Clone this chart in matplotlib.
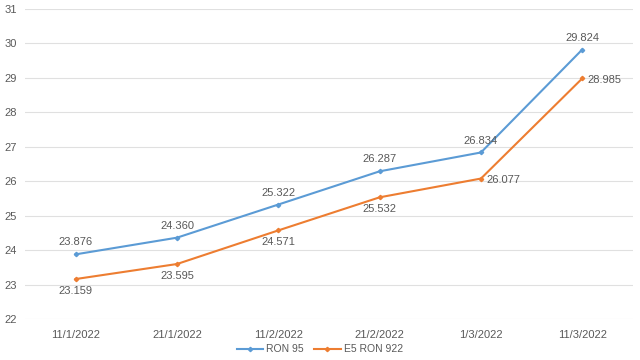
import matplotlib
matplotlib.use("Agg")
import matplotlib.pyplot as plt

categories = ["11/1/2022", "21/1/2022", "11/2/2022", "21/2/2022", "1/3/2022", "11/3/2022"]
ron95 = [23.876, 24.360, 25.322, 26.287, 26.834, 29.824]
e5ron92 = [23.159, 23.595, 24.571, 25.532, 26.077, 28.985]
series_names = ["RON 95", "E5 RON 922"]

plt.rcParams['font.family'] = ['Liberation Sans', 'DejaVu Sans']
txt = "#595959"
blue = "#5B9BD5"
orange = "#ED7D31"

fig = plt.figure(figsize=(6.4, 3.6), dpi=100)
ax = fig.add_axes([0.039, 0.114, 0.95, 0.861])
x = list(range(len(categories)))
ax.plot(x, ron95, color=blue, lw=1.5, marker="D", ms=2.2, label=series_names[0], zorder=3)
ax.plot(x, e5ron92, color=orange, lw=1.5, marker="D", ms=2.2, label=series_names[1], zorder=3)

ax.set_xlim(-0.5, len(categories) - 0.5)
ax.set_ylim(22, 31)
ax.set_yticks(range(22, 32))
ax.set_xticks(x)
ax.set_xticklabels(categories)
ax.grid(axis="y", color="#E0E0E0", lw=0.8)
ax.set_axisbelow(True)
for s in ax.spines.values():
    s.set_visible(False)
ax.tick_params(length=0, labelsize=8, colors=txt)
ax.tick_params(axis="x", pad=8)
ax.tick_params(axis="y", pad=6)

fs = 8
for i, v in enumerate(ron95):
    ax.annotate(f"{v:.3f}", (i, v), xytext=(0, 5), textcoords="offset points",
                ha="center", va="bottom", fontsize=fs, color=txt)
for i, v in enumerate(e5ron92):
    if i >= 4:
        ax.annotate(f"{v:.3f}", (i, v), xytext=(4, -1), textcoords="offset points",
                    ha="left", va="center", fontsize=fs, color=txt)
    else:
        ax.annotate(f"{v:.3f}", (i, v), xytext=(0, -5), textcoords="offset points",
                    ha="center", va="top", fontsize=fs, color=txt)

leg = fig.legend(loc="lower center", bbox_to_anchor=(0.5, -0.01), ncol=2, frameon=False,
                 fontsize=7.5, handlelength=2.5, columnspacing=1.0, handletextpad=0.3)
for t in leg.get_texts():
    t.set_color(txt)

fig.savefig("out.png", dpi=100)
